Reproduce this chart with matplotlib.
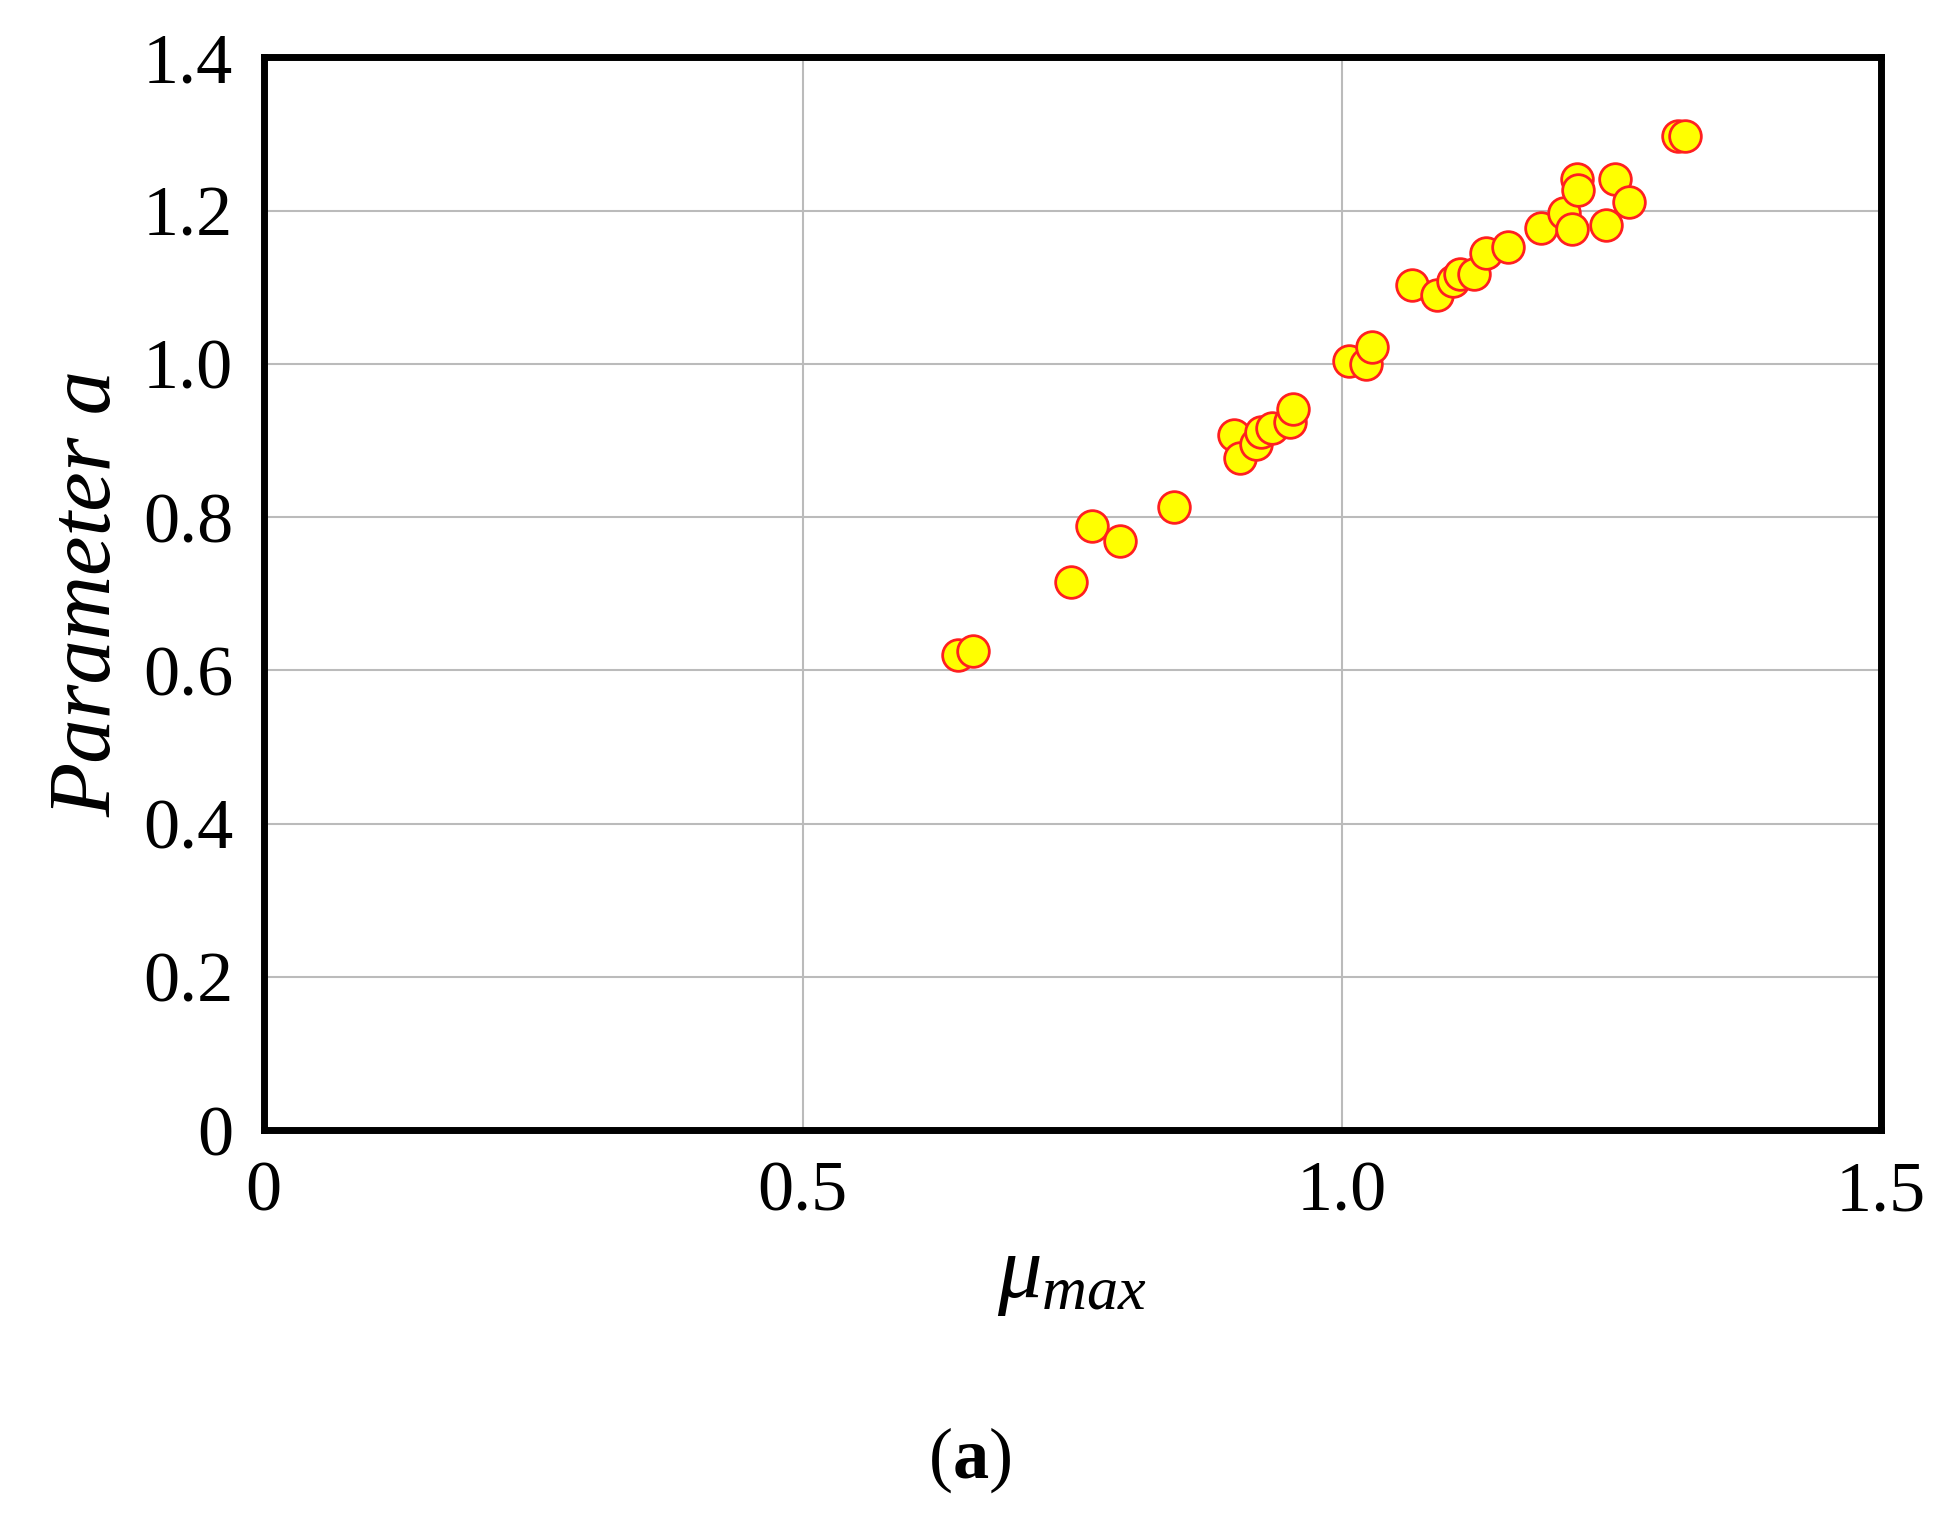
import matplotlib
matplotlib.use("Agg")
import matplotlib.pyplot as plt

mu_max = [0.644,0.658,0.749,0.768,0.794,0.844,0.900,0.906,0.920,0.925,0.935,0.952,0.955,
          1.007,1.022,1.028,1.065,1.088,1.103,1.110,1.123,1.134,1.154,1.185,1.206,1.214,
          1.218,1.219,1.245,1.253,1.266,1.312,1.318]
param_a = [0.620,0.625,0.715,0.788,0.769,0.814,0.907,0.877,0.895,0.911,0.916,0.924,0.941,
           1.004,1.000,1.022,1.103,1.090,1.108,1.117,1.117,1.145,1.153,1.177,1.197,1.176,
           1.242,1.227,1.182,1.242,1.211,1.298,1.298]
xticks = [0, 0.5, 1.0, 1.5]
xlabels = ["0", "0.5", "1.0", "1.5"]
yticks = [0, 0.2, 0.4, 0.6, 0.8, 1.0, 1.2, 1.4]
ylabels = ["0", "0.2", "0.4", "0.6", "0.8", "1.0", "1.2", "1.4"]

plt.rcParams['font.family'] = ['Liberation Serif', 'DejaVu Serif']
plt.rcParams['mathtext.fontset'] = 'custom'
plt.rcParams['mathtext.it'] = 'Liberation Serif:italic'
plt.rcParams['mathtext.rm'] = 'Liberation Serif'
plt.rcParams['mathtext.bf'] = 'Liberation Serif:bold'

fig = plt.figure(figsize=(19.39, 15.13), dpi=100)
ax = fig.add_axes([0.136, 0.253, 0.834, 0.709])
ax.scatter(mu_max, param_a, s=520, facecolor='#FFFF00', edgecolor='#FF2020', linewidth=2, zorder=3)
ax.set_xlim(0, 1.5)
ax.set_ylim(0, 1.4)
ax.set_xticks(xticks)
ax.set_xticklabels(xlabels)
ax.set_yticks(yticks)
ax.set_yticklabels(ylabels)
ax.grid(True, color='#BBBBBB', linewidth=1.5)
ax.tick_params(length=0, labelsize=52, pad=22)
for s in ax.spines.values():
    s.set_linewidth(5)
ax.set_xlabel(r'$\mu_{max}$', fontsize=64, labelpad=8)
ax.set_ylabel('Parameter a', fontsize=64, style='italic', labelpad=10)
fig.text(0.5, 0.035, r'($\mathbf{a}$)', fontsize=52, ha='center', va='center')
fig.savefig('out.png', dpi=100)
